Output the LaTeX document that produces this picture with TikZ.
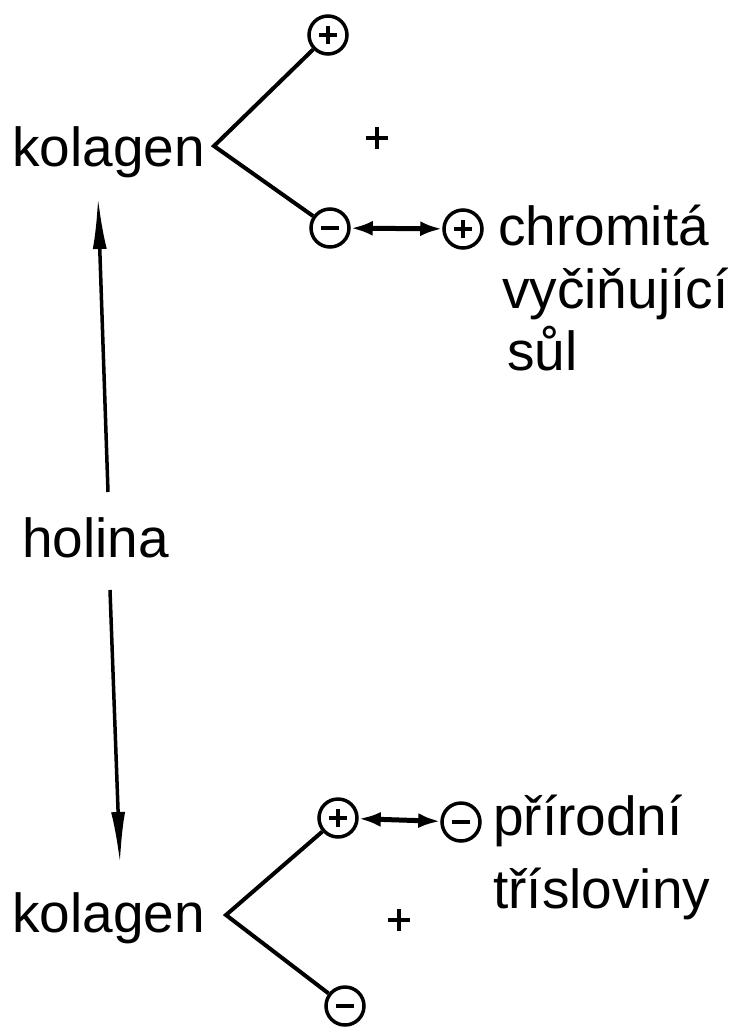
\documentclass[tikz,border=0pt]{standalone}
\usepackage{fontspec}
\setmainfont{Liberation Sans}
\usetikzlibrary{arrows.meta}
\begin{document}
\begin{tikzpicture}[x=1pt,y=-1pt,
  lbl/.style={anchor=base west,inner sep=0pt,font=\fontsize{55}{64}\selectfont},
  ion/.style={draw,circle,line width=3.5pt,minimum size=38pt,inner sep=0pt},
  cation/.style={ion,path picture={\draw[line width=3.5pt]
      ([xshift=-9pt]path picture bounding box.center) -- ([xshift=9pt]path picture bounding box.center)
      ([yshift=-9pt]path picture bounding box.center) -- ([yshift=9pt]path picture bounding box.center);}},
  anion/.style={ion,path picture={\draw[line width=3.5pt]
      ([xshift=-9pt]path picture bounding box.center) -- ([xshift=9pt]path picture bounding box.center);}},
  bond/.style={line width=4pt,line join=miter},
  react/.style={line width=5pt,{Latex[length=22pt,width=15pt]}-{Latex[length=22pt,width=15pt]}},
  mainarrow/.style={line width=3.5pt,-{Latex[length=52pt,width=14pt]}},
  plussign/.style={inner sep=0pt,minimum size=24pt,path picture={\draw[line width=4pt]
      ([xshift=-11pt]path picture bounding box.center) -- ([xshift=11pt]path picture bounding box.center)
      ([yshift=-11pt]path picture bounding box.center) -- ([yshift=11pt]path picture bounding box.center);}}]
\useasboundingbox (0,0) rectangle (734,1029);
\fill[white] (0,0) rectangle (734,1029);

% top part
\node[lbl] (k1) at (12,166) {kolagen};
\coordinate (v1) at (214,146);
\node[cation] (p1) at (328,35) {};
\node[anion] (m1) at (330,228) {};
\node[plussign] (s1) at (377,138) {};
\node[cation] (p2) at (463,229) {};
\draw[bond] (p1) -- (v1) -- (m1);
\draw[react] (m1) -- (p2);
\node[lbl] (c1) at (498,245) {chromitá};
\node[lbl] (c2) at (502,308) {vyčiňující};
\node[lbl] (c3) at (507,370) {sůl};

% middle
\node[lbl] (h) at (22,557) {holina};
\coordinate (up0) at (108,492);
\coordinate (up1) at (98,197);
\coordinate (dn0) at (110,590);
\coordinate (dn1) at (120,864);
\draw[mainarrow] (up0) -- (up1);
\draw[mainarrow] (dn0) -- (dn1);

% bottom part
\node[lbl] (k2) at (12,932) {kolagen};
\coordinate (v2) at (226,915);
\node[cation] (p3) at (338,818) {};
\node[anion] (m3) at (345,1006) {};
\node[plussign] (s2) at (399,920) {};
\node[anion] (m4) at (461,822) {};
\draw[bond] (p3) -- (v2) -- (m3);
\draw[react] (p3) -- (m4);
\node[lbl] (t1) at (493,835) {přírodní};
\node[lbl] (t2) at (493,908) {třísloviny};
\end{tikzpicture}
\end{document}
